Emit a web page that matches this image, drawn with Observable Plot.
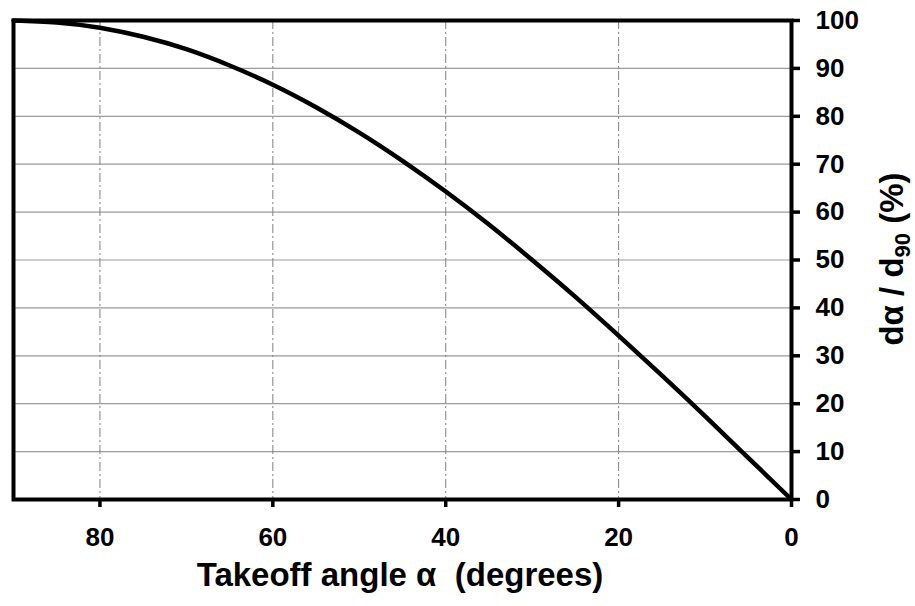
<!DOCTYPE html>
<html><head><meta charset="utf-8">
<script src="https://cdn.jsdelivr.net/npm/d3@7"></script>
<script src="https://cdn.jsdelivr.net/npm/@observablehq/plot@0.6"></script>
<style>
body{margin:0;background:#fff;}
#chart svg{font-family:"Liberation Sans",Arial,sans-serif;}
</style>
</head><body><div id="chart"></div>
<script>
// Values
const angles = [90, 85, 80, 75, 70, 65, 60, 55, 50, 45, 40, 35, 30, 25, 20, 15, 10, 5, 0];
const ratios = [100, 99.6, 98.5, 96.6, 94, 90.6, 86.6, 81.9, 76.6, 70.7, 64.3, 57.4, 50, 42.3, 34.2, 25.9, 17.4, 8.7, 0];
const xTicks = [80, 60, 40, 20, 0];
const yTicks = [0, 10, 20, 30, 40, 50, 60, 70, 80, 90, 100];
const xGridLines = [80, 60, 40, 20];
const yGridLines = [10, 20, 30, 40, 50, 60, 70, 80, 90];
const xTitle = "Takeoff angle \u03b1  (degrees)";
const yTitleParts = ["d\u03b1 / d", "90", " (%)"];

const data = angles.map((a, i) => ({angle: a, ratio: ratios[i]}));

const chart = Plot.plot({
  width: 915,
  height: 606,
  marginLeft: 13,
  marginRight: 124,
  marginTop: 20,
  marginBottom: 107,
  x: {domain: [90, 0]},
  y: {domain: [0, 100]},
  marks: [
    Plot.gridY(yGridLines, {stroke: "#9a9a9a", strokeOpacity: 1, strokeWidth: 1.2}),
    Plot.gridX(xGridLines, {stroke: "#808080", strokeOpacity: 1, strokeWidth: 1, strokeDasharray: "9,3,2,3"}),
    Plot.line(data, {x: "angle", y: "ratio", stroke: "black", strokeWidth: 4.5, curve: "natural"}),
    Plot.frame({stroke: "black", strokeWidth: 4}),
    Plot.axisX({ticks: xTicks, tickSize: 8, tickPadding: 20, strokeWidth: 3.5, fontSize: 26, fontWeight: "bold", label: null, tickFormat: d => String(d)}),
    Plot.axisY({anchor: "right", ticks: yTicks, tickSize: 8, tickPadding: 16, strokeWidth: 3.5, fontSize: 26, fontWeight: "bold", label: null, textAnchor: "start", tickFormat: d => String(d)})
  ]
});

const svg = d3.select(chart);
svg.append("text")
  .attr("x", 400).attr("y", 586)
  .attr("text-anchor", "middle")
  .attr("font-size", 33).attr("font-weight", "bold").attr("fill", "black")
  .text(xTitle);

const yt = svg.append("text")
  .attr("transform", "translate(903,259) rotate(-90)")
  .attr("text-anchor", "middle")
  .attr("font-size", 33).attr("font-weight", "bold").attr("fill", "black");
yt.append("tspan").text(yTitleParts[0]);
yt.append("tspan").attr("font-size", 22).attr("dy", 7).text(yTitleParts[1]);
yt.append("tspan").attr("dy", -7).text(yTitleParts[2]);

document.getElementById("chart").append(chart);
</script>
</body></html>
